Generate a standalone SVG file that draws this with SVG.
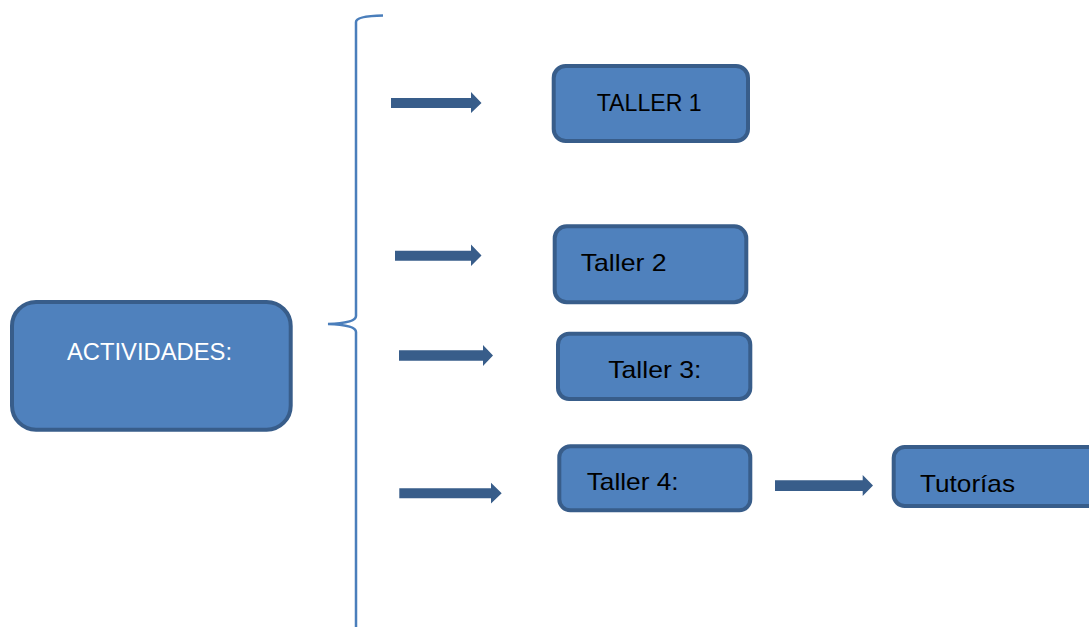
<svg xmlns="http://www.w3.org/2000/svg" width="1089" height="627" viewBox="0 0 1089 627">
<style>
.box{fill:#4f81bd;stroke:#385d8a;stroke-width:4}
.lbl{font-family:"Liberation Sans",Arial,sans-serif;font-size:24px;fill:#000}
.w{fill:#fff}
.arr{fill:#385d8a}
.brace{fill:none;stroke:#4a7ebb;stroke-width:2.5}
</style>
<rect width="1089" height="627" fill="#fff"/>
<g id="connectors">
<path class="brace" d="M383,15.5 Q356,16 356,22 V316 Q356,323 328,324 Q356,325 356,332 V630"/>
<polygon class="arr" points="391,98 471,98 471,92 481.5,103 471,113 471,108 391,108"/>
<polygon class="arr" points="395,250.7 471,250.7 471,244.5 481.5,255.5 471,266 471,260.7 395,260.7"/>
<polygon class="arr" points="399,350.3 483,350.3 483,345 493,355.5 483,366 483,360.7 399,360.7"/>
<polygon class="arr" points="399.3,488.3 491,488.3 491,482.7 501.7,493.3 491,503.5 491,498.3 399.3,498.3"/>
<polygon class="arr" points="775,480.2 862.7,480.2 862.7,475 873,485.5 862.7,496 862.7,491 775,491"/>
</g>
<g id="actividades">
<rect class="box" x="12" y="302" width="278.7" height="127.7" rx="24"/>
<text class="lbl w" x="67" y="360" textLength="165" lengthAdjust="spacingAndGlyphs">ACTIVIDADES:</text>
</g>
<g id="taller1">
<rect class="box" x="553.7" y="66" width="194.3" height="75" rx="12"/>
<text class="lbl" x="596.7" y="111" textLength="105" lengthAdjust="spacingAndGlyphs">TALLER 1</text>
</g>
<g id="taller2">
<rect class="box" x="554.7" y="226.3" width="191.6" height="76" rx="12"/>
<text class="lbl" x="580.7" y="271" textLength="86" lengthAdjust="spacingAndGlyphs">Taller 2</text>
</g>
<g id="taller3">
<rect class="box" x="558" y="333.7" width="192.3" height="65.3" rx="11"/>
<text class="lbl" x="608.3" y="378.3" textLength="93" lengthAdjust="spacingAndGlyphs">Taller 3:</text>
</g>
<g id="taller4">
<rect class="box" x="559.3" y="446.3" width="191" height="64" rx="11"/>
<text class="lbl" x="586.7" y="490" textLength="92" lengthAdjust="spacingAndGlyphs">Taller 4:</text>
</g>
<g id="tutorias">
<rect class="box" x="893.7" y="447" width="210" height="59" rx="11"/>
<text class="lbl" x="920" y="491.7" textLength="95" lengthAdjust="spacingAndGlyphs">Tutorías</text>
</g>
</svg>
